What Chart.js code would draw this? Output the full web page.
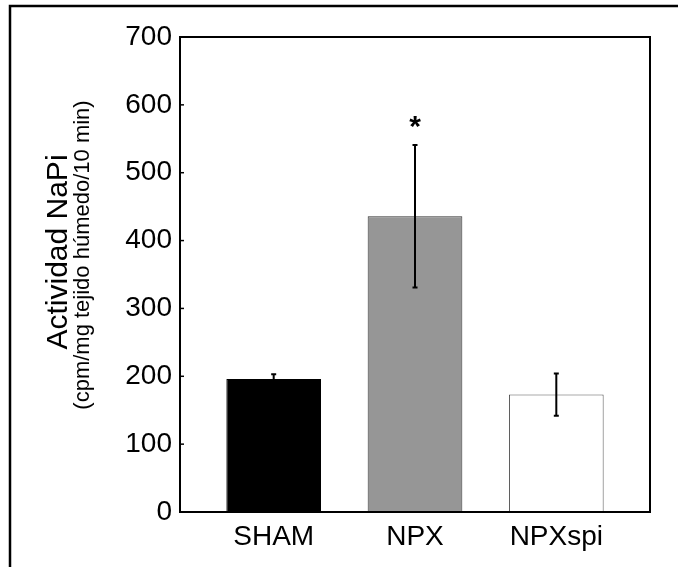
<!DOCTYPE html>
<html>
<head>
<meta charset="utf-8">
<script src="https://cdn.jsdelivr.net/npm/chart.js@4/dist/chart.umd.min.js"></script>
<style>
  html, body { margin: 0; padding: 0; background: #fff; }
  #wrap { position: relative; width: 678px; height: 567px; }
</style>
</head>
<body>
<div id="wrap"><canvas id="c" width="678" height="567"></canvas></div>
<script>
// ---- data ----
const categories = ['SHAM', 'NPX', 'NPXspi'];
const positions = [1, 2, 3];
const values = [196, 436, 173];
const errors = [7, 105, 31];
const significance = ['', '*', ''];
const yTicks = [0, 100, 200, 300, 400, 500, 600, 700];
const yTitle = 'Actividad NaPi';
const ySubtitle = '(cpm/mg tejido húmedo/10 min)';

const FONT = "'Liberation Sans', Arial, Helvetica, sans-serif";

const framePlugin = {
  id: 'frame',
  beforeDraw(chart) {
    const ctx = chart.ctx;
    ctx.save();
    ctx.fillStyle = '#fff';
    ctx.fillRect(0, 0, chart.width, chart.height);
    ctx.strokeStyle = '#000';
    ctx.lineWidth = 2.5;
    ctx.beginPath();
    ctx.moveTo(10, chart.height);
    ctx.lineTo(10, 6);
    ctx.lineTo(chart.width, 6);
    ctx.stroke();
    ctx.restore();
  },
  afterDraw(chart) {
    const ctx = chart.ctx;
    const a = chart.chartArea;
    const ys = chart.scales.y;
    ctx.save();
    // inward ticks
    ctx.strokeStyle = '#000';
    ctx.lineWidth = 1.5;
    yTicks.forEach(v => {
      const py = ys.getPixelForValue(v);
      ctx.beginPath();
      ctx.moveTo(a.left, py);
      ctx.lineTo(a.left + 4, py);
      ctx.stroke();
    });
    // plot box
    ctx.lineWidth = 2;
    ctx.strokeRect(a.left, a.top, a.right - a.left, a.bottom - a.top);
    // y titles
    ctx.fillStyle = '#000';
    ctx.textAlign = 'center';
    ctx.textBaseline = 'middle';
    ctx.translate(59, 252);
    ctx.rotate(-Math.PI / 2);
    ctx.font = '30px ' + FONT;
    ctx.fillText(yTitle, 0, 0);
    ctx.font = '22px ' + FONT;
    ctx.fillText(ySubtitle, -3, 24);
    ctx.restore();
  }
};

const errorPlugin = {
  id: 'errbars',
  afterDatasetsDraw(chart) {
    const ctx = chart.ctx;
    const xs = chart.scales.x, ys = chart.scales.y;
    ctx.save();
    ctx.strokeStyle = '#000';
    ctx.lineWidth = 2;
    positions.forEach((p, i) => {
      const px = xs.getPixelForValue(p);
      const top = ys.getPixelForValue(values[i] + errors[i]);
      const bot = ys.getPixelForValue(values[i] - errors[i]);
      ctx.beginPath();
      ctx.moveTo(px, top); ctx.lineTo(px, bot);
      ctx.moveTo(px - 2.5, top); ctx.lineTo(px + 2.5, top);
      ctx.moveTo(px - 2.5, bot); ctx.lineTo(px + 2.5, bot);
      ctx.stroke();
      if (significance[i]) {
        ctx.fillStyle = '#000';
        ctx.font = 'bold 30px ' + FONT;
        ctx.textAlign = 'center';
        ctx.textBaseline = 'middle';
        ctx.fillText(significance[i], px, top - 17);
      }
    });
    ctx.restore();
  }
};

new Chart(document.getElementById('c'), {
  type: 'bar',
  data: {
    datasets: [{
      data: positions.map((p, i) => ({ x: p, y: values[i] })),
      backgroundColor: ['#000000', '#969696', '#ffffff'],
      borderColor: ['#000000', '#333333', '#555555'],
      borderWidth: 1,
      borderSkipped: false,
      categoryPercentage: 1,
      barPercentage: 0.67
    }]
  },
  options: {
    responsive: false,
    animation: false,
    devicePixelRatio: 1,
    layout: { padding: { left: 115, right: 28, top: 37, bottom: 12 } },
    plugins: { legend: { display: false }, tooltip: { enabled: false } },
    scales: {
      x: {
        type: 'linear',
        offset: false,
        min: 0.337,
        max: 3.663,
        afterBuildTicks: s => { s.ticks = positions.map(v => ({ value: v })); },
        afterFit: s => { s.height = 43; },
        grid: { display: false, drawTicks: false, offset: false },
        border: { display: false },
        ticks: {
          padding: 8,
          color: '#000',
          font: { family: FONT, size: 28 },
          callback: v => categories[positions.indexOf(v)] || ''
        }
      },
      y: {
        min: 0,
        max: 700,
        afterBuildTicks: s => { s.ticks = yTicks.map(v => ({ value: v })); },
        afterFit: s => { s.width = 65; },
        grid: { display: false, drawTicks: false },
        border: { display: false },
        ticks: {
          padding: 8,
          color: '#000',
          font: { family: FONT, size: 28 }
        }
      }
    }
  },
  plugins: [framePlugin, errorPlugin]
});
</script>
</body>
</html>
